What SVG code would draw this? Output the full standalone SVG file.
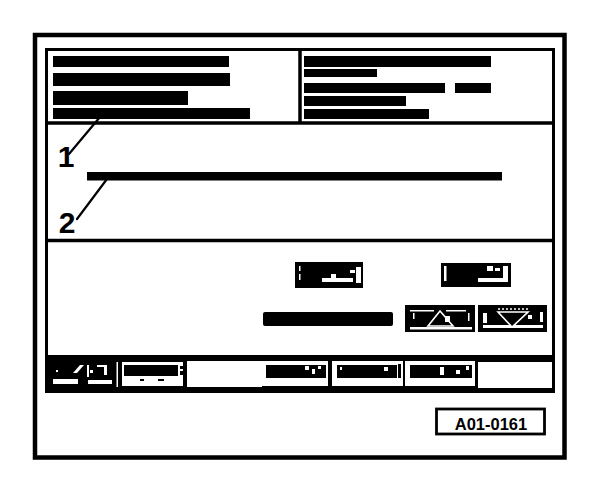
<svg xmlns="http://www.w3.org/2000/svg" width="608" height="488" viewBox="0 0 608 488">
<style>
.k{fill:#000}
.w{fill:#fff}
.frame{fill:none;stroke:#000}
.lead{stroke:#000;stroke-width:2.2;fill:none;stroke-linecap:round}
.num{font-family:"Liberation Sans",Arial,sans-serif;font-weight:bold;font-size:30px;fill:#000}
.tag{font-family:"Liberation Sans",Arial,sans-serif;font-weight:bold;font-size:16.5px;fill:#000}
.tri{fill:#000;stroke:#fff;stroke-width:1.6}
</style>
<rect width="608" height="488" fill="#fff"/>
<g id="outer-frame">
<rect class="frame" x="35" y="35" width="529.5" height="422.5" stroke-width="4.5"/>
</g>
<g id="screen">
<rect class="frame" x="46.5" y="49.5" width="507" height="342" stroke-width="3"/>
<line x1="45" y1="123" x2="555" y2="123" stroke="#000" stroke-width="3.5"/>
<line x1="300" y1="49" x2="300" y2="123" stroke="#000" stroke-width="3.5"/>
<line x1="45" y1="240.5" x2="555" y2="240.5" stroke="#000" stroke-width="3.5"/>
</g>
<g id="panel-left">
<rect class="k" x="53" y="56" width="176" height="11"/>
<rect class="k" x="53" y="73" width="177" height="13"/>
<rect class="k" x="53" y="91" width="135" height="14"/>
<rect class="k" x="53" y="108" width="197" height="11"/>
</g>
<g id="panel-right">
<rect class="k" x="304" y="56" width="187" height="11"/>
<rect class="k" x="304" y="69" width="73" height="8"/>
<rect class="k" x="304" y="83" width="141" height="10"/>
<rect class="k" x="455" y="83" width="36" height="10"/>
<rect class="k" x="304" y="96" width="102" height="10"/>
<rect class="k" x="304" y="109" width="125" height="10"/>
</g>
<g id="middle-bar">
<rect class="k" x="87" y="172" width="415" height="8.5"/>
</g>
<g id="connectors">
<line class="lead" x1="69" y1="154" x2="100" y2="117"/>
<line class="lead" x1="77" y1="219" x2="110" y2="175"/>
</g>
<g id="label-1"><text class="num" x="66" y="167" text-anchor="middle">1</text></g>
<g id="label-2"><text class="num" x="67" y="233" text-anchor="middle">2</text></g>
<g id="button-b">
<rect class="k" x="295" y="262" width="68" height="26"/>
<rect class="w" x="299" y="266" width="1.5" height="5"/>
<rect class="w" x="299" y="274" width="1.5" height="6"/>
<rect class="w" x="322" y="278" width="31" height="4"/>
<rect class="w" x="331" y="274" width="5" height="4"/>
<rect class="w" x="356" y="267" width="5" height="16"/>
<rect class="w" x="350" y="270" width="5" height="3"/>
</g>
<g id="button-a">
<rect class="k" x="441" y="263" width="70" height="24"/>
<rect class="w" x="444" y="266" width="2.5" height="15"/>
<rect class="w" x="478" y="278" width="30" height="4"/>
<rect class="w" x="503" y="266" width="5" height="16"/>
<rect class="w" x="487" y="266" width="6" height="5"/>
<rect class="w" x="495" y="268" width="5" height="3"/>
</g>
<g id="status-bar">
<rect class="k" x="263" y="312" width="130" height="14" rx="2"/>
</g>
<g id="button-up">
<rect class="k" x="405" y="305" width="70" height="27"/>
<rect class="w" x="410" y="310" width="24" height="1.5"/>
<rect class="w" x="446" y="310" width="20" height="1.5"/>
<rect class="w" x="410" y="327" width="62" height="2.5"/>
<rect class="w" x="413" y="313" width="1.5" height="6"/>
<rect class="w" x="468" y="313" width="1.5" height="8"/>
<polygon class="tri" points="440,311 428,326 453,326"/>
<rect class="w" x="445" y="316" width="5" height="6"/>
</g>
<g id="button-down">
<rect class="k" x="478" y="305" width="69" height="27"/>
<line x1="498" y1="309" x2="528" y2="309" stroke="#fff" stroke-width="1.5" stroke-dasharray="2,2"/>
<rect class="w" x="483" y="313" width="4" height="10"/>
<rect class="w" x="483" y="325" width="60" height="3"/>
<rect class="w" x="540" y="312" width="3" height="10"/>
<polygon class="tri" points="498,312 528,312 512,327"/>
<rect class="w" x="528" y="315" width="4" height="4"/>
</g>
<g id="toolbar">
<rect class="k" x="45" y="355" width="510" height="38"/>
</g>
<g id="tb-button-1">
<rect class="w" x="53" y="379" width="25" height="5"/>
<rect class="w" x="88" y="380" width="24" height="4"/>
<polygon class="w" points="73,373 80,365 84,365 77,373"/>
<rect class="w" x="87" y="365" width="2" height="12"/>
<rect class="w" x="90" y="370" width="3" height="3"/>
<rect class="w" x="104" y="365" width="3" height="10"/>
<rect class="w" x="97" y="365" width="8" height="2"/>
<rect class="w" x="56" y="370" width="2" height="2"/>
</g>
<g id="tb-divider"><rect class="w" x="116.5" y="362" width="1.5" height="25"/></g>
<g id="tb-button-2">
<rect class="w" x="122" y="362" width="61" height="24"/>
<rect class="k" x="124" y="365" width="54" height="11"/>
<rect class="k" x="180" y="366" width="3" height="3"/>
<rect class="k" x="180" y="371" width="3" height="4"/>
<rect class="k" x="140" y="379" width="4" height="2"/>
<rect class="k" x="158" y="379" width="6" height="2"/>
</g>
<g id="tb-blank-1"><rect class="w" x="187" y="361" width="75" height="26"/></g>
<g id="tb-button-4">
<rect class="w" x="262" y="361" width="66" height="25"/>
<rect class="k" x="266" y="365" width="60" height="13"/>
<rect class="w" x="305" y="366" width="4" height="4"/>
<rect class="w" x="312" y="369" width="3" height="5"/>
<rect class="w" x="318" y="366" width="3" height="3"/>
</g>
<g id="tb-button-5">
<rect class="w" x="332" y="361" width="71" height="25"/>
<rect class="k" x="337" y="365" width="60" height="13"/>
<rect class="k" x="398" y="364" width="3" height="14"/>
<rect class="w" x="384" y="367" width="4" height="4"/>
<rect class="w" x="340" y="367" width="2" height="3"/>
</g>
<g id="tb-button-6">
<rect class="w" x="405" y="361" width="70" height="25"/>
<rect class="k" x="410" y="365" width="62" height="13"/>
<rect class="w" x="440" y="367" width="4" height="8"/>
<rect class="w" x="456" y="370" width="4" height="4"/>
<rect class="w" x="466" y="366" width="3" height="4"/>
</g>
<g id="tb-blank-2"><rect class="w" x="478" y="362" width="74" height="26"/></g>
<g id="code-label">
<rect class="frame" x="436.5" y="409" width="108" height="25" stroke-width="2.8"/>
<text class="tag" x="491" y="430" text-anchor="middle">A01-0161</text>
</g>
</svg>
